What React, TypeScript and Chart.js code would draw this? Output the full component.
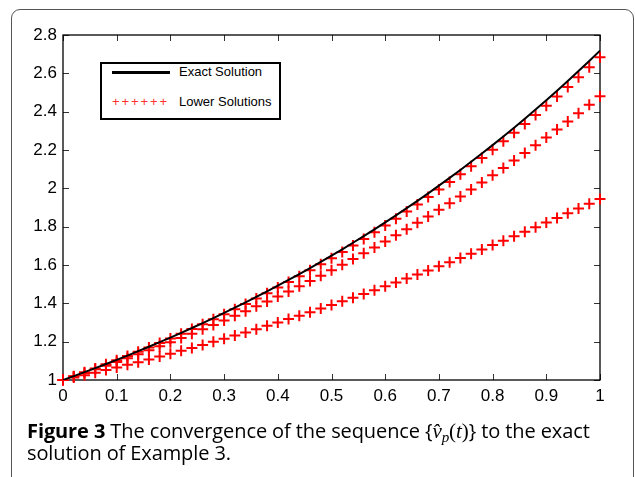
import React, { useEffect, useRef } from "react";
import { Chart, registerables } from "chart.js";

Chart.register(...registerables);

// ---- data ----
const tValues = [
  0, 0.02, 0.04, 0.06, 0.08, 0.1, 0.12, 0.14, 0.16, 0.18, 0.2, 0.22, 0.24, 0.26, 0.28, 0.3,
  0.32, 0.34, 0.36, 0.38, 0.4, 0.42, 0.44, 0.46, 0.48, 0.5, 0.52, 0.54, 0.56, 0.58, 0.6,
  0.62, 0.64, 0.66, 0.68, 0.7, 0.72, 0.74, 0.76, 0.78, 0.8, 0.82, 0.84, 0.86, 0.88, 0.9,
  0.92, 0.94, 0.96, 0.98, 1,
];

const exactSolution = [
  1, 1.0202, 1.0408, 1.0618, 1.0833, 1.1052, 1.1275, 1.1503, 1.1735, 1.1972, 1.2214,
  1.2461, 1.2712, 1.2969, 1.3231, 1.3499, 1.3771, 1.4049, 1.4333, 1.4623, 1.4918,
  1.522, 1.5527, 1.5841, 1.6161, 1.6487, 1.682, 1.716, 1.7507, 1.786, 1.8221,
  1.8589, 1.8965, 1.9348, 1.9739, 2.0138, 2.0544, 2.0959, 2.1383, 2.1815, 2.2255,
  2.2705, 2.3164, 2.3632, 2.4109, 2.4596, 2.5093, 2.56, 2.6117, 2.6645, 2.7183,
];

const lowerSolution1 = [
  1, 1.0198, 1.04, 1.0606, 1.0816, 1.1031, 1.125, 1.1473, 1.17, 1.1933, 1.217,
  1.2412, 1.2658, 1.291, 1.3166, 1.3429, 1.3696, 1.3968, 1.4246, 1.4531, 1.482,
  1.5116, 1.5416, 1.5724, 1.6038, 1.6357, 1.6684, 1.7017, 1.7357, 1.7703, 1.8057,
  1.8417, 1.8786, 1.9161, 1.9544, 1.9935, 2.0333, 2.074, 2.1155, 2.1579, 2.201,
  2.2451, 2.2901, 2.3359, 2.3827, 2.4304, 2.4791, 2.5288, 2.5795, 2.6312, 2.6839,
];

const lowerSolution2 = [
  1, 1.0182, 1.0367, 1.0555, 1.0747, 1.0942, 1.1141, 1.1343, 1.155, 1.176, 1.1974,
  1.2193, 1.2415, 1.2642, 1.2873, 1.3109, 1.3349, 1.3593, 1.3842, 1.4096, 1.4355,
  1.4619, 1.4888, 1.5162, 1.5441, 1.5725, 1.6015, 1.631, 1.6611, 1.6917, 1.7229,
  1.7547, 1.787, 1.82, 1.8536, 1.8877, 1.9225, 1.958, 1.9941, 2.0308, 2.0682,
  2.1062, 2.1449, 2.1843, 2.2244, 2.2652, 2.3067, 2.3489, 2.3919, 2.4356, 2.48,
];

const lowerSolution3 = [
  1, 1.0125, 1.0253, 1.0384, 1.0517, 1.0653, 1.0791, 1.0932, 1.1075, 1.1221, 1.137,
  1.1521, 1.1675, 1.1832, 1.1991, 1.2153, 1.2317, 1.2484, 1.2653, 1.2825, 1.3,
  1.3177, 1.3357, 1.354, 1.3725, 1.3913, 1.4103, 1.4296, 1.4491, 1.4689, 1.489,
  1.5093, 1.5299, 1.5508, 1.5719, 1.5933, 1.6149, 1.6368, 1.6589, 1.6813, 1.704,
  1.7269, 1.7501, 1.7736, 1.7973, 1.8213, 1.8455, 1.87, 1.8947, 1.9197, 1.945,
];

const xTickValues = [0, 0.1, 0.2, 0.3, 0.4, 0.5, 0.6, 0.7, 0.8, 0.9, 1];
const xTickLabels = ["0", "0.1", "0.2", "0.3", "0.4", "0.5", "0.6", "0.7", "0.8", "0.9", "1"];
const yTickValues = [1, 1.2, 1.4, 1.6, 1.8, 2, 2.2, 2.4, 2.6, 2.8];
const yTickLabels = ["1", "1.2", "1.4", "1.6", "1.8", "2", "2.2", "2.4", "2.6", "2.8"];

const legendLabels = ["Exact Solution", "Lower Solutions"];

const TICK_LEN = 6;

const frameTicksPlugin = {
  id: "frameTicks",
  beforeDatasetsDraw(chart: any) {
    const { ctx, chartArea: a, scales } = chart;
    const xs = scales.x;
    const ys = scales.y;
    ctx.save();
    ctx.strokeStyle = "#333";
    ctx.lineWidth = 1;
    ctx.beginPath();
    xs.ticks.forEach((t: any) => {
      const px = Math.round(xs.getPixelForValue(t.value)) + 0.5;
      ctx.moveTo(px, a.bottom);
      ctx.lineTo(px, a.bottom - TICK_LEN);
      ctx.moveTo(px, a.top);
      ctx.lineTo(px, a.top + TICK_LEN);
    });
    ys.ticks.forEach((t: any) => {
      const py = Math.round(ys.getPixelForValue(t.value)) + 0.5;
      ctx.moveTo(a.left, py);
      ctx.lineTo(a.left + TICK_LEN, py);
      ctx.moveTo(a.right, py);
      ctx.lineTo(a.right - TICK_LEN, py);
    });
    ctx.stroke();
    ctx.strokeStyle = "#000";
    ctx.lineWidth = 1.3;
    ctx.strokeRect(a.left, a.top, a.right - a.left, a.bottom - a.top);
    ctx.restore();
  },
};

function toXY(ys: number[]) {
  return tValues.map((t, i) => ({ x: t, y: ys[i] }));
}

export default function App() {
  const canvasRef = useRef<HTMLCanvasElement | null>(null);

  useEffect(() => {
    if (!canvasRef.current) return;
    Chart.defaults.font.family = '"Liberation Sans", Arial, Helvetica, sans-serif';
    const pointDs = (label: string, values: number[]) => ({
      label,
      data: toXY(values),
      showLine: false,
      pointStyle: "cross",
      pointRadius: 5.5,
      pointHoverRadius: 5.5,
      pointBorderWidth: 2,
      borderColor: "#ff0000",
      backgroundColor: "#ff0000",
      clip: false,
    });
    const chart = new Chart(canvasRef.current, {
      type: "line",
      data: {
        datasets: [
          {
            label: legendLabels[0],
            data: toXY(exactSolution),
            borderColor: "#000",
            borderWidth: 2,
            pointRadius: 0,
            tension: 0,
            fill: false,
          },
          pointDs(legendLabels[1], lowerSolution1),
          pointDs(legendLabels[1], lowerSolution2),
          pointDs(legendLabels[1], lowerSolution3),
        ] as any,
      },
      options: {
        animation: false,
        responsive: false,
        maintainAspectRatio: false,
        devicePixelRatio: 1,
        layout: { padding: { top: 35, right: 35, bottom: 0, left: 0 } },
        plugins: {
          legend: { display: false },
          tooltip: { enabled: false },
          title: { display: false },
        },
        scales: {
          x: {
            type: "linear",
            min: 0,
            max: 1,
            grid: { display: false, drawTicks: false },
            border: { display: false },
            afterBuildTicks: (s: any) => {
              s.ticks = xTickValues.map((v) => ({ value: v }));
            },
            afterFit: (s: any) => {
              s.height = 40;
              s.paddingLeft = 0;
              s.paddingRight = 0;
            },
            ticks: {
              autoSkip: false,
              maxRotation: 0,
              color: "#000",
              padding: 6,
              font: { size: 17 },
              callback: (_v: any, i: number) => xTickLabels[i],
            },
          },
          y: {
            type: "linear",
            min: 1,
            max: 2.8,
            grid: { display: false, drawTicks: false },
            border: { display: false },
            afterBuildTicks: (s: any) => {
              s.ticks = yTickValues.map((v) => ({ value: v }));
            },
            afterFit: (s: any) => {
              s.width = 63;
              s.paddingTop = 0;
              s.paddingBottom = 0;
            },
            ticks: {
              autoSkip: false,
              color: "#000",
              padding: 6,
              font: { size: 17 },
              callback: (_v: any, i: number) => yTickLabels[i],
            },
          },
        },
      },
      plugins: [frameTicksPlugin],
    });
    return () => chart.destroy();
  }, []);

  return (
    <div
      style={{
        position: "fixed",
        left: 0,
        top: 0,
        width: 635,
        height: 477,
        overflow: "hidden",
        background: "#fff",
      }}
    >
      <div
        style={{
          position: "absolute",
          left: 11,
          top: 9,
          width: 623,
          height: 520,
          boxSizing: "border-box",
          border: "1px solid #555",
          borderRadius: 9,
        }}
      />
      <canvas
        ref={canvasRef}
        width={635}
        height={420}
        style={{ position: "absolute", left: 0, top: 0, width: 635, height: 420 }}
      />
      <div
        style={{
          position: "absolute",
          left: 100,
          top: 62,
          width: 181,
          height: 58,
          boxSizing: "border-box",
          border: "2px solid #000",
          background: "#fff",
          fontFamily: '"Liberation Sans", Arial, sans-serif',
          fontSize: 13,
          lineHeight: "15px",
          color: "#000",
        }}
      >
        <div
          style={{
            position: "absolute",
            left: 10,
            top: 7,
            width: 58,
            height: 2.5,
            background: "#000",
          }}
        />
        <div style={{ position: "absolute", left: 77, top: 0, whiteSpace: "nowrap" }}>
          {legendLabels[0]}
        </div>
        <div
          style={{
            position: "absolute",
            left: 10,
            top: 30,
            whiteSpace: "nowrap",
            color: "#ff3030",
            letterSpacing: "1.9px",
          }}
        >
          ++++++
        </div>
        <div style={{ position: "absolute", left: 77, top: 30, whiteSpace: "nowrap" }}>
          {legendLabels[1]}
        </div>
      </div>
      <div
        style={{
          position: "absolute",
          left: 27,
          top: 420,
          whiteSpace: "nowrap",
          fontFamily: "'Open Sans', Lato, sans-serif",
          fontSize: 20,
          fontWeight: 500,
          lineHeight: "22px",
          color: "#000",
          letterSpacing: "-0.1px",
        }}
      >
        <b>Figure 3</b> The convergence of the sequence {"{"}
        <span style={{ fontFamily: '"Liberation Serif", "DejaVu Serif", serif', fontSize: 21 }}>
          <i>{"v\u0302"}</i>
          <sub style={{ fontSize: 15, verticalAlign: "-4px", lineHeight: 0 }}>
            <i>p</i>
          </sub>
          (<i>t</i>)
        </span>
        {"}"} to the exact
        <br />
        solution of Example 3.
      </div>
    </div>
  );
}
